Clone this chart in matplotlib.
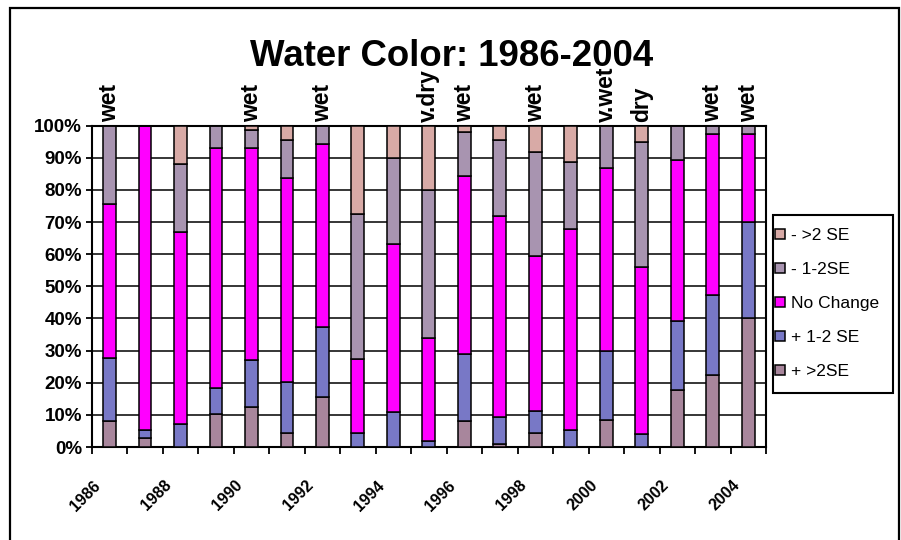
import matplotlib
matplotlib.use("Agg")
import matplotlib.pyplot as plt
from matplotlib.patches import Patch, Rectangle
from matplotlib.transforms import ScaledTranslation, blended_transform_factory
import numpy as np

plt.rcParams['font.family'] = ['Liberation Sans', 'DejaVu Sans']

years = list(range(1986, 2005))

# percent of sites in each class, per year
plus_gt2 = [8.0, 2.8, 0, 10.4, 12.3, 4.4, 15.5, 0, 0, 0, 8.0, 1.0, 4.4, 0, 8.5, 0, 17.8, 22.3, 40.1]
plus_12 = [19.7, 2.6, 7.3, 8.1, 14.9, 15.9, 21.7, 4.4, 10.9, 1.8, 21.0, 8.3, 6.7, 5.4, 21.5, 4.1, 21.3, 24.9, 29.9]
no_change = [47.8, 94.6, 59.5, 74.5, 65.8, 63.3, 57.1, 23.0, 52.3, 32.1, 55.5, 62.6, 48.5, 62.4, 56.7, 51.8, 50.2, 50.2, 27.4]
minus_12 = [24.5, 0, 21.3, 7.0, 5.7, 11.9, 5.7, 45.1, 26.9, 46.1, 13.6, 23.8, 32.3, 21.0, 13.3, 39.1, 10.7, 2.6, 2.6]
minus_gt2 = [0, 0, 11.9, 0, 1.3, 4.5, 0, 27.5, 9.9, 20.0, 1.9, 4.3, 8.1, 11.2, 0, 5.0, 0, 0, 0]

series_names = ['+ >2SE', '+ 1-2 SE', 'No Change', '- 1-2SE', '- >2 SE']
series_colors = ['#A8869C', '#7878C6', '#FF00FF', '#A894B0', '#D8AAA6']

# wet / dry year notes over the bars
note_years = [1986, 1990, 1992, 1995, 1996, 1998, 2000, 2001, 2003, 2004]
note_labels = ['wet', 'wet', 'wet', 'v.dry', 'wet', 'wet', 'v.wet', 'dry', 'wet', 'wet']

fig = plt.figure(figsize=(9.01, 5.4), dpi=100)
ax = fig.add_axes([91.7 / 901, 93 / 540, (766 - 91.7) / 901, (447 - 125.7) / 540])

x = np.arange(len(years))
bottom = np.zeros(len(years))
for vals, name, col in zip([plus_gt2, plus_12, no_change, minus_12, minus_gt2], series_names, series_colors):
    ax.bar(x, vals, width=0.36, bottom=bottom, color=col, edgecolor='black', linewidth=1.1, label=name, zorder=3)
    bottom += np.array(vals)

ax.set_xlim(-0.5, len(years) - 0.5)
ax.set_ylim(0, 100)
ax.set_axisbelow(True)

# y axis
ax.set_yticks(range(0, 101, 10))
ax.set_yticklabels([f"{v}%" for v in range(0, 101, 10)], fontsize=13.5, fontweight='bold')
ax.yaxis.grid(True, color='black', linewidth=1.1)
ax.tick_params(axis='y', length=4, width=1.3, pad=3)

# x axis: tick marks between bars, labels every other year
ax.set_xticks(np.arange(-0.5, len(years), 1.0))
ax.set_xticklabels([])
ax.tick_params(axis='x', which='major', length=5, width=1.3)
even = [i for i, y in enumerate(years) if y % 2 == 0]
ax.set_xticks(even, minor=True)
ax.set_xticklabels([str(years[i]) for i in even], minor=True, fontsize=11.5, fontweight='bold',
                   rotation=45, ha='right', va='center', rotation_mode='anchor')
ax.tick_params(axis='x', which='minor', length=0, pad=26)
for lab in ax.get_xticklabels(minor=True):
    lab.set_transform(lab.get_transform() + ScaledTranslation(-11 / 100, 0, fig.dpi_scale_trans))

for s in ax.spines.values():
    s.set_linewidth(1.5)

# notes above bars
trans = blended_transform_factory(ax.transData, ax.transAxes)
for yr, lab in zip(note_years, note_labels):
    ax.text(years.index(yr), 1.0, lab, transform=trans + ScaledTranslation(0, 4 / 100, fig.dpi_scale_trans),
            rotation=90, ha='center', va='bottom', fontsize=16.5, fontweight='bold', zorder=5)

fig.text(452 / 901, 1 - 66 / 540, 'Water Color: 1986-2004', ha='center', va='baseline',
         fontsize=26.4, fontweight='bold')

# legend (top entry is the top of the stack), frame drawn separately
handles = [Patch(facecolor=c, edgecolor='black', linewidth=1.1) for c in series_colors][::-1]
leg = fig.legend(handles, series_names[::-1], loc='upper left', bbox_to_anchor=(775 / 901, 1 - 228 / 540),
                 borderaxespad=0, frameon=False, fontsize=12.5, handlelength=0.55,
                 handleheight=0.55, handletextpad=0.35, labelspacing=1.1, borderpad=0)
fig.patches.append(Rectangle((773 / 901, 1 - 393 / 540), (893 - 773) / 901, (393 - 215) / 540,
                             transform=fig.transFigure, fill=False, edgecolor='black', linewidth=1.5))

# outer chart border
fig.patches.append(Rectangle((10 / 901, -0.1), (899 - 10) / 901, 1.1 - 8 / 540, transform=fig.transFigure,
                             fill=False, edgecolor='black', linewidth=1.6))

fig.savefig('out.png', dpi=100)
